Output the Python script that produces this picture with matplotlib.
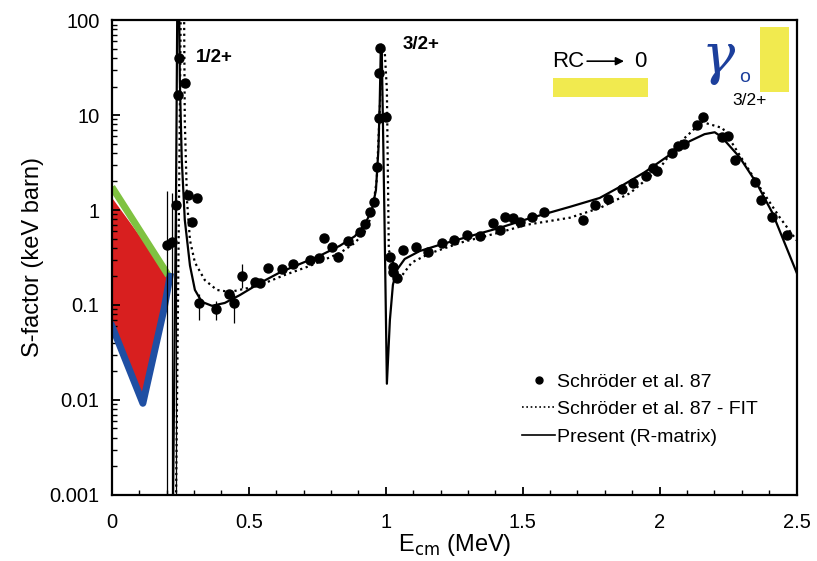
#!/usr/bin/env python3
import matplotlib
matplotlib.use("Agg")
import matplotlib.pyplot as plt
from matplotlib.lines import Line2D
from matplotlib.patches import Rectangle

plt.rcParams['font.family'] = ['Liberation Sans', 'DejaVu Sans']

# Schroder et al. 87 data points (E in MeV, S in keV barn)
data_E = [0.201, 0.219, 0.234, 0.241, 0.245, 0.266, 0.277, 0.310, 0.292,
          0.318, 0.380, 0.427, 0.445, 0.474, 0.522, 0.540, 0.569, 0.620,
          0.661, 0.723, 0.755, 0.774, 0.803, 0.825, 0.861, 0.905, 0.923,
          0.942, 0.956, 0.967, 0.974, 1.000, 0.974, 0.978, 1.015, 1.026,
          1.026, 1.040, 1.062, 1.109, 1.153, 1.204, 1.248, 1.296, 1.343,
          1.391, 1.416, 1.434, 1.464, 1.489, 1.533, 1.577, 1.719, 1.763,
          1.810, 1.861, 1.901, 1.949, 1.974, 1.989, 2.044, 2.066, 2.088,
          2.135, 2.157, 2.226, 2.248, 2.274, 2.347, 2.369, 2.412, 2.464]
data_S = [0.43, 0.46, 1.13, 16.3, 40, 21.7, 1.44, 1.34, 0.75,
          0.105, 0.091, 0.13, 0.105, 0.20, 0.175, 0.17, 0.245, 0.24,
          0.27, 0.30, 0.31, 0.51, 0.41, 0.32, 0.47, 0.59, 0.71,
          0.95, 1.21, 2.84, 9.3, 9.5, 28, 51, 0.32, 0.25,
          0.22, 0.19, 0.38, 0.41, 0.36, 0.45, 0.48, 0.55, 0.53,
          0.73, 0.62, 0.84, 0.82, 0.75, 0.84, 0.95, 0.79, 1.13,
          1.31, 1.66, 1.92, 2.28, 2.77, 2.57, 3.98, 4.72, 4.95,
          7.85, 9.5, 5.87, 6.0, 3.36, 1.97, 1.27, 0.84, 0.55]

# points with visible error bars
err_E = [0.201, 0.219, 0.234, 0.318, 0.380, 0.445, 0.474]
err_S = [0.43, 0.46, 1.13, 0.105, 0.091, 0.105, 0.20]
err_lo = [0.0008, 0.0008, 0.0008, 0.07, 0.07, 0.065, 0.15]
err_hi = [1.6, 1.5, 1.6, 0.13, 0.11, 0.13, 0.27]

# Present (R-matrix)
rm_E = [0.223, 0.234, 0.239, 0.245, 0.248, 0.255, 0.266, 0.285, 0.303,
        0.328, 0.365, 0.412, 0.467, 0.540, 0.613, 0.686, 0.759, 0.832,
        0.887, 0.923, 0.949, 0.964, 0.973, 0.978, 0.982, 0.985, 0.995,
        1.004, 1.015, 1.026, 1.040, 1.069, 1.124, 1.197, 1.307, 1.416,
        1.526, 1.672, 1.781, 1.854, 1.945, 2.036, 2.109, 2.164, 2.201,
        2.226, 2.292, 2.354, 2.412, 2.500]
rm_S = [0.0008, 1.3, 200, 200, 23, 3.4, 0.79, 0.26, 0.144,
        0.108, 0.098, 0.105, 0.127, 0.17, 0.22, 0.27, 0.33, 0.42,
        0.53, 0.70, 1.0, 1.62, 4.3, 14, 55, 55, 0.89,
        0.0148, 0.0695, 0.163, 0.233, 0.305, 0.37, 0.43, 0.53, 0.65,
        0.82, 1.08, 1.34, 1.75, 2.5, 3.8, 5.3, 6.3, 6.6,
        5.9, 3.6, 1.92, 0.93, 0.22]

# Schroder et al. 87 - FIT
fit_E = [0.234, 0.245, 0.252, 0.263, 0.266, 0.274, 0.285, 0.303, 0.339,
         0.383, 0.431, 0.493, 0.558, 0.631, 0.723, 0.832, 0.887, 0.923,
         0.949, 0.967, 0.978, 0.985, 0.996, 1.004, 1.011, 1.022, 1.051,
         1.095, 1.161, 1.281, 1.405, 1.515, 1.672, 1.781, 1.891, 2.000,
         2.062, 2.109, 2.153, 2.230, 2.292, 2.365, 2.438, 2.500]
fit_S = [0.0008, 1.3, 200, 200, 8.9, 1.27, 0.48, 0.28, 0.183,
         0.144, 0.137, 0.15, 0.17, 0.207, 0.258, 0.352, 0.45, 0.59,
         0.885, 2.07, 11.3, 48, 48, 18.3, 0.38, 0.30, 0.19,
         0.28, 0.35, 0.46, 0.57, 0.70, 0.83, 1.05, 1.5, 2.75,
         4.8, 6.4, 8.5, 7.3, 3.8, 1.75, 0.84, 0.48]

# low-energy extrapolation band
band_top_E = [0.0, 0.204]
band_top_S = [1.35, 0.21]
green_E = [0.0, 0.206]
green_S = [1.75, 0.205]
blue_E = [0.0, 0.113, 0.19, 0.212]
blue_S = [0.06, 0.0092, 0.09, 0.2]

fig = plt.figure(figsize=(8.17, 5.61), dpi=100)
ax = fig.add_axes([0.137, 0.118, 0.838, 0.846])

# red band
poly_E = band_top_E + blue_E[::-1]
poly_S = band_top_S + blue_S[::-1]
ax.fill(poly_E, poly_S, color="#d81f1f", lw=0, zorder=1)
ax.plot(green_E, green_S, color="#7fc241", lw=5, solid_capstyle="butt", zorder=2)
ax.plot(blue_E, blue_S, color="#1f4fa3", lw=5, zorder=2)

ax.errorbar(err_E, err_S, yerr=[[s - l for s, l in zip(err_S, err_lo)],
                                [h - s for s, h in zip(err_S, err_hi)]],
            fmt="none", ecolor="black", elinewidth=0.9, zorder=3)
ax.plot(fit_E, fit_S, color="black", ls=(0, (1, 1.6)), lw=1.6, zorder=3)
ax.plot(rm_E, rm_S, color="black", lw=1.6, zorder=4)
ax.plot(data_E, data_S, "o", color="black", ms=6.5, zorder=5)

ax.set_yscale("log")
ax.set_xlim(0, 2.5)
ax.set_ylim(0.001, 100)
ax.set_xticks([0, 0.5, 1, 1.5, 2, 2.5])
ax.set_xticklabels(["0", "0.5", "1", "1.5", "2", "2.5"])
ax.set_xticks([i * 0.1 for i in range(26)], minor=True)
ax.set_yticks([0.001, 0.01, 0.1, 1, 10, 100])
ax.set_yticklabels(["0.001", "0.01", "0.1", "1", "10", "100"])
ax.tick_params(which="both", direction="in", labelsize=14.5)
ax.tick_params(which="major", length=6, width=1.3)
ax.tick_params(axis="x", which="major", pad=13)
ax.tick_params(axis="y", which="major", pad=9)
ax.tick_params(which="minor", length=3.5, width=1)
for sp in ax.spines.values():
    sp.set_linewidth(1.6)

ax.set_xlabel("E$_{\\rm cm}$ (MeV)", fontsize=17, labelpad=0)
ax.set_ylabel("S-factor (keV barn)", fontsize=17, labelpad=4)

ax.text(0.307, 40, "1/2+", fontsize=13.5, fontweight="bold", va="center")
ax.text(1.062, 55, "3/2+", fontsize=13.5, fontweight="bold", va="center")
ax.text(2.266, 14.4, "3/2+", fontsize=12.5, va="center")

# RC -> 0 with yellow highlight
ax.add_patch(Rectangle((1.609, 15.5), 0.347, 9.0, color="#f1ea4f", lw=0, zorder=1))
ax.text(1.609, 37, "RC", fontsize=16, va="center")
ax.annotate("", xy=(1.88, 37), xytext=(1.725, 37),
            arrowprops=dict(arrowstyle="-|>", lw=1.2, color="black", mutation_scale=12))
ax.text(1.905, 37, "0", fontsize=16, va="center")

# gamma_0 with yellow box
ax.add_patch(Rectangle((2.365, 17.5), 0.109, 66.5, color="#f1ea4f", lw=0, zorder=1))
ax.text(2.215, 40, "γ", fontsize=40, color="#1c3f9c", va="center", ha="center",
        family="DejaVu Serif", style="italic")
ax.text(2.31, 25, "o", fontsize=14, color="#1c3f9c", va="center", ha="center")

handles = [
    Line2D([], [], marker="o", ls="none", color="black", ms=5),
    Line2D([], [], color="black", ls=(0, (1, 1.6)), lw=1.2),
    Line2D([], [], color="black", lw=1.2),
]
labels = ["Schröder et al. 87", "Schröder et al. 87 - FIT", "Present (R-matrix)"]
ax.legend(handles, labels, loc="upper left", bbox_to_anchor=(0.574, 0.293),
          frameon=False, fontsize=14, handlelength=1.7, handletextpad=0.1,
          labelspacing=0.5, borderpad=0.4)

plt.savefig("out.png", dpi=100)
